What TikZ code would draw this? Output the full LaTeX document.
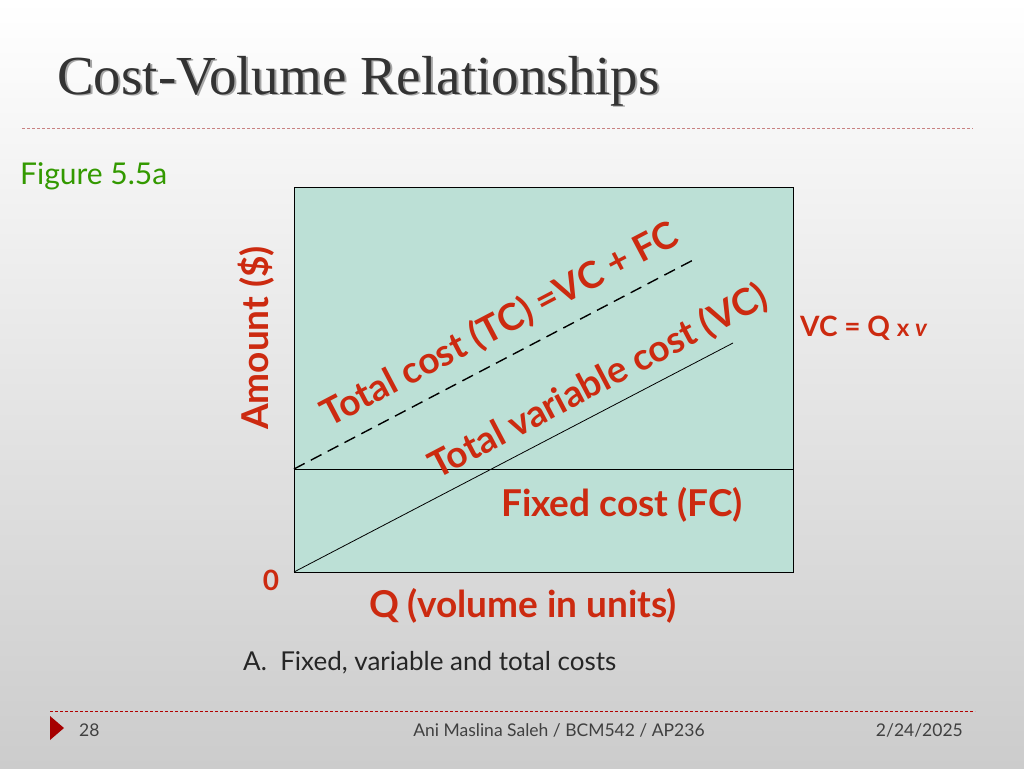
\documentclass[tikz,border=0pt]{standalone}
\usepackage{fontspec}
\setmainfont{Lato}
\newfontfamily\titlefont{Liberation Serif}
\begin{document}
\begin{tikzpicture}[x=1pt,y=-1pt,
  lbl/.style={font=\fontsize{37}{40}\selectfont\bfseries, inner sep=0},
  foot/.style={text=black!75, font=\fontsize{17.5}{20}\selectfont, inner sep=0}]
\definecolor{plotbg}{HTML}{BCE0D6}
\definecolor{lblred}{HTML}{CC2A10}
\shade[top color=white, bottom color=black!20] (0,0) rectangle (1024,768);
\useasboundingbox (0,0) rectangle (1024,768);
% title
\node[text=black!35, font=\titlefont\fontsize{55}{58}\selectfont, anchor=west, inner sep=0] at (59,82.5) {Cost-Volume Relationships};
\node (title) [text=black!80, font=\titlefont\fontsize{55}{58}\selectfont, anchor=west, inner sep=0] at (57,81) {Cost-Volume Relationships};
\draw[densely dashed, red!40!gray!70, line width=0.8pt] (22,128) -- (973,128);
\node (fig) [text=green!50!black!80!yellow, font=\fontsize{30}{34}\selectfont, anchor=west, inner sep=0] at (20,176) {Figure 5.5a};
% plot
\draw[fill=plotbg, line width=0.8pt] (294,187) rectangle (793,572);
\coordinate (o) at (294,572);
\coordinate (f0) at (294,469);
\coordinate (f1) at (793,469);
\coordinate (tc) at (697,258);
\coordinate (vc) at (733,343);
\draw[line width=0.8pt] (f0) -- (f1);
\draw[line width=0.8pt] (o) -- (vc);
\draw[dashed, dash pattern=on 12pt off 7pt, line width=1.4pt] (f0) -- (tc);
\node (tcl) [lbl, text=lblred, rotate=27.7] at (500,325) {Total cost (TC) =VC + FC};
\node (vcl) [lbl, text=lblred, rotate=27.7] at (598,382) {Total variable cost (VC)};
\node (fcl) [lbl, text=lblred] at (622,505) {Fixed cost (FC)};
\node (amt) [lbl, text=lblred, rotate=90] at (256,338) {Amount (\$)};
\node (zero) [lbl, text=lblred, font=\fontsize{28}{30}\selectfont\bfseries] at (271,580) {0};
\node (q) [lbl, text=lblred] at (523,606) {Q (volume in units)};
\node (vceq) [lbl, text=lblred, font=\fontsize{28}{30}\selectfont\bfseries, anchor=west] at (800,328) {VC = Q {\fontsize{24}{26}\selectfont x \itshape v}};
\node (cap) [text=black!85, font=\fontsize{26}{30}\selectfont, anchor=west, inner sep=0] at (243,663) {A.\ \ Fixed, variable and total costs};
% footer
\draw[densely dashed, red!70!black, line width=0.8pt] (50,711) -- (975,711);
\fill[red!65!black] (50,716) -- (64,728) -- (50,740) -- cycle;
\node (pg) [foot, anchor=west] at (79,730) {28};
\node (auth) [foot] at (559,730) {Ani Maslina Saleh / BCM542 / AP236};
\node (date) [foot, anchor=east] at (963,730) {2/24/2025};
\end{tikzpicture}
\end{document}
